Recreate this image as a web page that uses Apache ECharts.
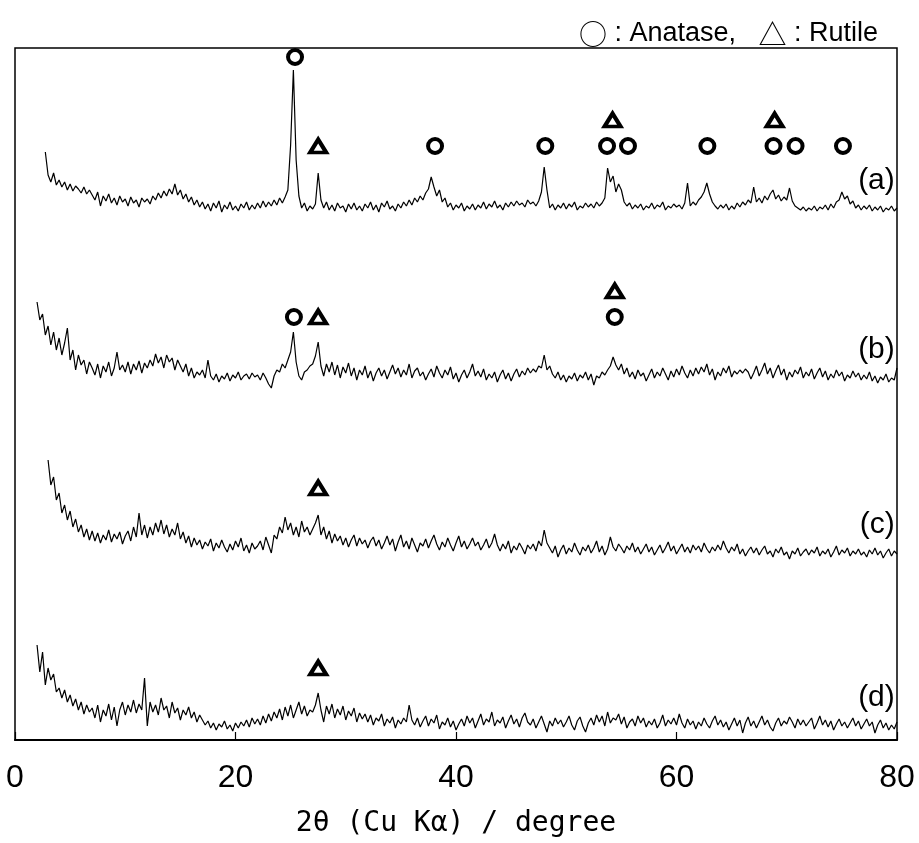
<!DOCTYPE html>
<html><head><meta charset="utf-8">
<script src="https://cdn.jsdelivr.net/npm/echarts@6/dist/echarts.min.js"></script>
<style>html,body{margin:0;padding:0;background:#fff}#c{width:919px;height:843px}</style>
</head><body><div id="c"></div>
<script>
// ---------------- DATA ----------------
const ANGLE_START = 2;      // 2θ of first sample (degree)
const ANGLE_STEP = 0.25;    // scan step (degree)
const X_TICKS = [0, 20, 40, 60, 80];
const PATTERN_NAMES = ['(a)', '(b)', '(c)', '(d)'];

// intensities (a.u.) above each pattern's own baseline, one value per step from 2° to 80°
const PATTERN_A = [
 null,null,null,68,45,38,47,35,40,33,38,30,36,29,34,31,27,33,26,30,
 25,20,28,14,24,19,26,17,22,15,24,18,21,14,23,17,20,13,22,18,
 21,16,24,20,27,22,29,24,31,26,36,25,30,21,26,18,23,15,20,13,
 18,11,16,9,17,12,19,8,15,11,18,10,14,9,16,12,18,10,15,11,
 17,12,19,13,18,14,20,15,22,17,23,30,75,150,60,24,12,17,9,14,
 11,16,47,20,12,18,10,15,9,17,12,14,8,16,11,17,10,14,9,16,
 12,18,10,15,8,17,13,19,11,14,9,16,12,18,14,20,15,22,18,24,
 20,27,31,43,33,24,30,18,22,13,17,10,15,12,17,9,14,11,16,10,
 15,12,18,11,16,13,19,12,15,10,17,13,18,14,19,15,17,13,20,16,
 18,14,19,28,53,30,12,16,10,15,12,17,11,16,13,18,10,14,12,17,
 13,16,12,18,14,17,22,52,38,44,28,36,30,18,14,17,11,15,12,16,
 10,14,12,17,11,15,13,18,10,14,12,16,13,15,11,17,37,14,18,15,
 20,23,28,37,26,18,14,11,15,12,16,10,14,11,17,13,18,15,20,17,
 33,18,22,17,24,20,26,30,21,25,19,23,20,32,19,14,12,10,13,9,
 12,10,14,9,13,11,15,10,16,12,18,20,28,21,24,16,19,12,15,10,
 14,11,15,9,13,10,14,8,12,10,14,9,12
];
const PATTERN_B = [
 88,70,76,55,64,45,58,40,52,35,47,62,30,40,20,35,25,30,16,28,
 22,15,26,12,24,18,28,14,22,38,20,25,18,28,16,26,20,29,17,27,
 22,30,24,36,27,33,22,35,28,32,20,30,24,18,26,14,22,12,18,15,
 20,12,30,14,10,16,8,14,11,17,9,15,12,18,10,14,16,11,17,13,
 15,10,17,12,6,2,14,20,18,26,22,30,38,58,28,14,10,18,20,24,
 26,34,48,24,14,26,18,28,15,25,12,23,17,27,14,22,10,20,15,24,
 12,19,9,17,22,14,20,11,18,25,16,22,13,20,15,26,12,19,22,14,
 18,10,16,21,13,24,17,12,20,15,23,11,17,8,15,20,12,18,26,14,
 19,13,21,10,16,12,18,8,15,20,11,17,9,16,21,13,19,15,22,17,
 21,18,24,22,35,20,24,16,12,18,10,15,8,14,11,17,9,15,12,18,
 10,16,5,14,12,18,15,20,24,33,25,20,26,16,22,13,18,11,20,14,
 17,9,15,21,12,18,14,22,16,10,19,13,21,15,24,17,12,20,14,22,
 16,23,18,26,15,21,10,18,14,22,17,24,13,19,16,20,17,21,18,11,
 17,24,14,20,27,16,22,12,19,25,15,21,10,18,13,20,16,23,12,18,
 14,21,11,17,22,13,19,10,16,12,20,14,18,9,15,12,19,13,17,10,
 15,11,18,9,14,7,13,10,16,8,12,10,22
];
const PATTERN_C = [
 null,null,null,null,105,80,88,65,72,52,60,45,54,38,46,33,40,28,36,25,
 34,24,32,22,30,25,35,23,31,26,33,21,29,34,24,38,28,52,30,40,
 27,38,30,42,33,45,31,40,28,36,30,42,26,33,22,29,18,27,20,25,
 16,23,19,26,14,22,17,25,18,13,21,15,24,18,27,14,20,12,22,16,
 19,24,15,28,20,12,30,26,38,32,48,35,42,30,38,28,44,33,38,30,
 36,42,50,30,38,26,34,22,31,24,29,20,27,18,25,30,19,27,21,25,
 17,24,28,19,25,16,22,29,20,26,14,23,30,18,24,16,27,20,13,22,
 19,26,17,24,30,21,15,23,18,27,20,14,22,29,18,24,16,21,27,19,
 23,15,20,26,17,22,31,20,14,21,16,24,12,19,15,22,17,11,20,16,
 21,14,24,19,35,22,17,12,19,8,15,20,11,17,13,22,15,10,18,14,
 20,12,17,24,13,19,10,16,28,18,14,21,17,12,19,15,22,13,18,11,
 16,21,13,18,10,15,20,12,17,23,14,19,11,16,21,13,18,12,20,15,
 19,13,22,16,12,18,14,20,15,24,17,12,18,14,21,11,16,9,14,18,
 12,17,10,15,19,11,14,8,16,12,18,10,13,6,14,11,17,9,13,16,
 10,15,12,18,9,14,11,16,8,13,19,10,15,12,17,9,14,11,16,10,
 13,8,15,11,17,10,14,7,12,16,9,14,11
];
const PATTERN_D = [
 95,68,88,55,72,60,66,48,52,42,50,38,45,34,41,30,38,26,35,28,
 32,22,35,18,30,24,36,20,33,14,30,38,25,35,28,40,27,36,30,62,
 14,38,28,35,25,42,30,34,22,38,27,32,20,30,25,33,22,28,18,25,
 20,15,19,12,17,10,16,13,19,11,15,9,17,12,18,14,20,13,22,16,
 21,15,24,17,26,19,28,22,31,20,33,24,35,22,30,38,26,34,24,30,
 28,35,47,30,18,34,26,36,22,31,25,34,20,29,24,32,18,27,21,26,
 18,25,15,22,19,26,14,21,17,23,12,20,16,22,18,35,20,15,22,13,
 19,24,14,21,17,25,11,18,15,22,13,19,10,16,21,14,24,17,22,12,
 19,26,15,21,18,28,14,20,17,23,12,19,25,16,21,13,22,27,18,15,
 21,12,18,24,16,8,19,14,22,16,20,13,18,24,15,10,19,23,14,8,
 17,22,15,25,18,24,14,28,17,22,20,26,16,23,12,18,21,14,24,17,
 22,13,19,15,21,12,17,25,14,20,16,22,15,26,17,12,21,15,19,11,
 18,14,22,16,12,19,24,15,20,13,18,10,16,22,14,20,7,17,23,14,
 19,12,18,24,15,20,13,9,17,22,14,19,16,23,18,12,21,15,20,14,
 18,22,11,17,24,15,20,13,19,10,16,21,14,18,12,17,22,14,19,11,
 16,21,14,18,7,15,20,12,17,10,15,11,18
];

// identified reflections (2θ, degree) for each pattern a–d
const ANATASE_PEAKS = [
  [25.4, 38.1, 48.1, 53.7, 55.6, 62.8, 68.8, 70.8, 75.1],
  [25.3, 54.4],
  [],
  []
];
const RUTILE_PEAKS = [
  [27.5, 54.2, 68.9],
  [27.5, 54.4],
  [27.5],
  [27.5]
];

// ---------------- LAYOUT / STYLE ----------------
const PATTERNS = [PATTERN_A, PATTERN_B, PATTERN_C, PATTERN_D];
const OFFSETS = [520, 350, 175, 0];       // vertical stacking of patterns
const MARK_ROW = [74, 73, 77, 72];        // default marker height above baseline
const MARK_CLEAR = 13, MARK_STACK = 26, LABEL_GAP = 28;

const angleAt = i => ANGLE_START + i * ANGLE_STEP;
function localMax(k, ang) {
  let m = -Infinity;
  PATTERNS[k].forEach((v, i) => { if (v != null && Math.abs(angleAt(i) - ang) <= 0.3) m = Math.max(m, v); });
  return m;
}
function markY(k, ang, rutile) {
  let y = Math.max(MARK_ROW[k], localMax(k, ang) + MARK_CLEAR);
  if (rutile && ANATASE_PEAKS[k].some(a => Math.abs(a - ang) < 0.8)) y = MARK_ROW[k] + MARK_STACK;
  return OFFSETS[k] + y;
}

const series = [];
PATTERNS.forEach((vals, k) => {
  series.push({
    type: 'line', name: PATTERN_NAMES[k], symbol: 'none', animation: false,
    lineStyle: { color: '#000', width: 1.2 }, z: 2,
    data: vals.map((v, i) => v == null ? null : [angleAt(i), v + OFFSETS[k]]).filter(Boolean)
  });
});
const markStyle = { color: '#fff', borderColor: '#000', borderWidth: 4, opacity: 1 };
const circles = [], triangles = [], labels = [];
PATTERNS.forEach((vals, k) => {
  ANATASE_PEAKS[k].forEach(a => circles.push([a, markY(k, a, false)]));
  RUTILE_PEAKS[k].forEach(a => triangles.push([a, markY(k, a, true)]));
  const tail = vals.slice(-10);
  const base = tail.reduce((s, v) => s + v, 0) / tail.length;
  labels.push({ value: [79.8, OFFSETS[k] + base + LABEL_GAP], name: PATTERN_NAMES[k] });
});
series.push({ type: 'scatter', symbol: 'circle', symbolSize: 14, itemStyle: markStyle, data: circles, z: 5, animation: false, silent: true });
series.push({ type: 'scatter', symbol: 'triangle', symbolSize: [16, 13], itemStyle: markStyle, data: triangles, z: 5, animation: false, silent: true });
series.push({
  type: 'scatter', symbolSize: 0, data: labels, z: 6, animation: false, silent: true,
  itemStyle: { opacity: 1 },
  label: { show: true, position: 'left', distance: 0, formatter: p => p.name,
    fontSize: 30, fontFamily: "'Liberation Sans'", color: '#000' }
});

const chart = echarts.init(document.getElementById('c'), null, { renderer: 'canvas' });
chart.setOption({
  backgroundColor: '#fff',
  animation: false,
  title: {
    text: '{s|○}{t| : Anatase,}   {s|△}{t| : Rutile}', right: 36, top: 15,
    textStyle: {
      fontSize: 27, fontWeight: 'normal', color: '#000',
      rich: {
        s: { fontSize: 28, fontFamily: "'Noto Sans CJK JP'", color: '#000' },
        t: { fontSize: 27, fontFamily: "'Liberation Sans'", color: '#000' }
      }
    }
  },
  grid: { left: 15, right: 22, top: 48, bottom: 103, show: true, borderColor: '#000', borderWidth: 1.5, outerBoundsMode: 'none' },
  xAxis: {
    type: 'value', min: X_TICKS[0], max: X_TICKS[X_TICKS.length - 1], interval: X_TICKS[1] - X_TICKS[0],
    axisLine: { show: true, lineStyle: { color: '#000', width: 2 } },
    axisTick: { show: true, inside: true, length: 8, lineStyle: { color: '#000', width: 1.2 } },
    splitLine: { show: false },
    axisLabel: { fontSize: 32, color: '#000', fontFamily: 'Liberation Sans', margin: 22 },
    name: '2θ (Cu Kα) / degree', nameLocation: 'middle', nameGap: 70,
    nameTextStyle: { fontSize: 28, color: '#000', fontFamily: 'DejaVu Sans Mono' }
  },
  yAxis: { type: 'value', min: 0, max: 692, show: false },
  series
});
</script>
</body></html>
